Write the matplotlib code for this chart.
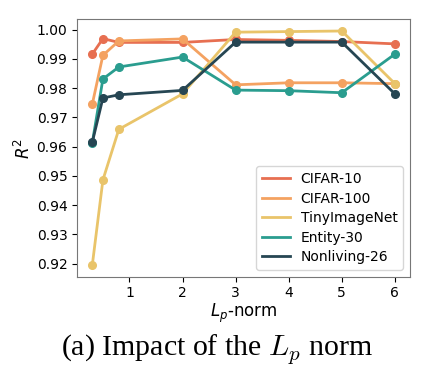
import matplotlib
matplotlib.use('Agg')
import matplotlib.pyplot as plt

# L_p values and R^2 per dataset
p_values = [0.3, 0.5, 0.8, 2, 3, 4, 5, 6]
cifar10 = [0.9916, 0.9969, 0.9956, 0.9956, 0.9966, 0.9963, 0.9959, 0.9951]
cifar100 = [0.9745, 0.9912, 0.9961, 0.9968, 0.9811, 0.9818, 0.9818, 0.9815]
tiny = [0.9195, 0.9486, 0.9659, 0.9780, 0.9991, 0.9993, 0.9995, 0.9815]
entity30 = [0.9613, 0.9831, 0.9872, 0.9906, 0.9793, 0.9791, 0.9784, 0.9916]
nonliving26 = [0.9615, 0.9766, 0.9777, 0.9792, 0.9957, 0.9957, 0.9957, 0.9780]

names = ['CIFAR-10', 'CIFAR-100', 'TinyImageNet', 'Entity-30', 'Nonliving-26']
series = [cifar10, cifar100, tiny, entity30, nonliving26]
colors = ['#E76F51', '#F4A261', '#E9C46A', '#2A9D8F', '#264653']

fig = plt.figure(figsize=(4.24, 3.86), dpi=100)
ax = fig.add_axes([0.182, 0.283, 0.785, 0.667])

for name, vals, c in zip(names, series, colors):
    # line carries the legend entry, markers drawn on top without label
    ax.plot(p_values, vals, '-', color=c, lw=2, label=name)
    ax.plot(p_values, vals, 'o', color=c, ms=5.5)

ax.set_xticks([1, 2, 3, 4, 5, 6])
ax.set_yticks([0.92, 0.93, 0.94, 0.95, 0.96, 0.97, 0.98, 0.99, 1.00])
ax.tick_params(labelsize=10)
ax.set_xlabel('$L_p$-norm', fontsize=12, labelpad=1)
ax.set_ylabel('$R^2$', fontsize=12, labelpad=2)
for s in ax.spines.values():
    s.set_color('#777777')

ax.legend(loc='lower right', fontsize=10, handlelength=2.0, labelspacing=0.4)

fig.text(0.512, 0.096, '(a) Impact of the $L_p$ norm', ha='center', va='center',
         fontsize=21.5, family='Liberation Serif', math_fontfamily='cm')

fig.savefig('out.png', dpi=100)
